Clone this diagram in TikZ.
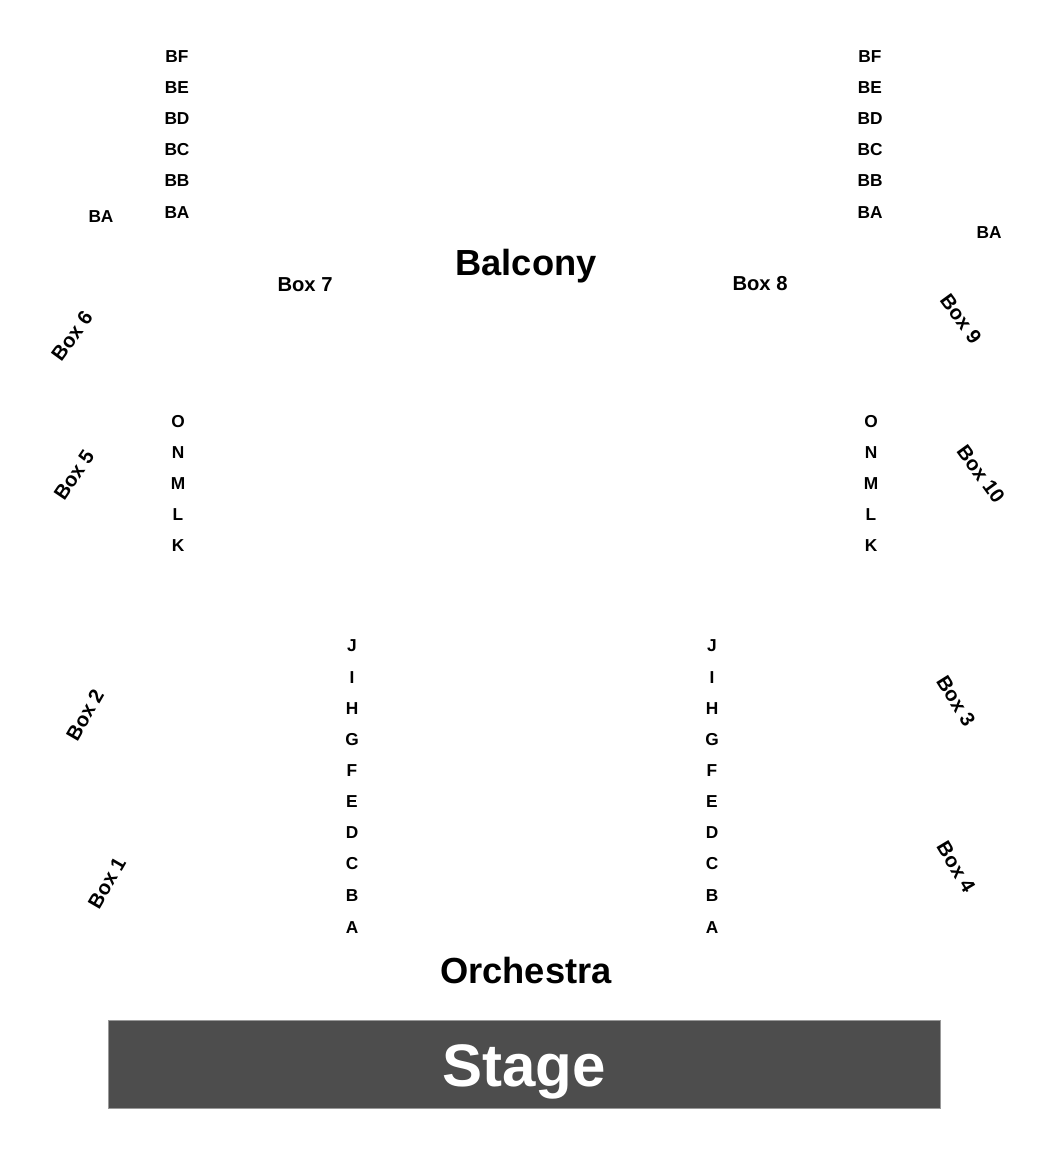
\documentclass[tikz,border=0pt]{standalone}
\usepackage{fontspec}
\setmainfont{Liberation Sans}
\begin{document}
\begin{tikzpicture}[x=1pt,y=-1pt,
  rowlbl/.style={font=\fontsize{17.3}{19}\selectfont\bfseries, inner sep=0pt},
  boxlbl/.style={font=\fontsize{20.2}{22}\selectfont\bfseries, inner sep=0pt},
  arealbl/.style={font=\fontsize{36.3}{40}\selectfont\bfseries, inner sep=0pt, anchor=base},
  stagebox/.style={fill=stagegray, draw=gray!80, line width=0.8pt}]
\definecolor{stagegray}{HTML}{4D4D4D}
\useasboundingbox (0,0) rectangle (1050,1150);
% balcony rows
\foreach \r/\y in {BF/57,BE/88,BD/119,BC/150,BB/181,BA/213}{
  \node[rowlbl] (bl\r) at (177,\y) {\r};
  \node[rowlbl] (br\r) at (870,\y) {\r};
}
\node[rowlbl] (blxBA) at (101,217) {BA};
\node[rowlbl] (brxBA) at (989,233) {BA};
% middle rows
\foreach \r/\y in {O/422,N/453,M/484,L/515,K/546}{
  \node[rowlbl] (ml\r) at (178,\y) {\r};
  \node[rowlbl] (mr\r) at (871,\y) {\r};
}
% orchestra rows
\foreach \r/\y in {J/646,I/678,H/709,G/740,F/771,E/802,D/833,C/864,B/896,A/928}{
  \node[rowlbl] (ol\r) at (352,\y) {\r};
  \node[rowlbl] (or\r) at (712,\y) {\r};
}
% boxes
\node[boxlbl] (box7) at (305,285) {Box 7};
\node[boxlbl] (box8) at (760,284) {Box 8};
\node[boxlbl, rotate=54] (box6) at (72,336) {Box 6};
\node[boxlbl, rotate=56] (box5) at (74,475) {Box 5};
\node[boxlbl, rotate=60] (box2) at (85,715) {Box 2};
\node[boxlbl, rotate=60] (box1) at (107,883) {Box 1};
\node[boxlbl, rotate=-54] (box9) at (961,319) {Box 9};
\node[boxlbl, rotate=-54] (box10) at (981,474) {Box 10};
\node[boxlbl, rotate=-58] (box3) at (956,701) {Box 3};
\node[boxlbl, rotate=-59] (box4) at (956,867) {Box 4};
% areas
\node[arealbl] (balcony) at (526,275) {Balcony};
\node[arealbl] (orchestra) at (526,983) {Orchestra};
\path[stagebox] (108,1020) rectangle (940,1108);
\node[font=\fontsize{60}{66}\selectfont\bfseries, text=white, inner sep=0pt, anchor=base] (stage) at (524,1086) {Stage};
\end{tikzpicture}
\end{document}
